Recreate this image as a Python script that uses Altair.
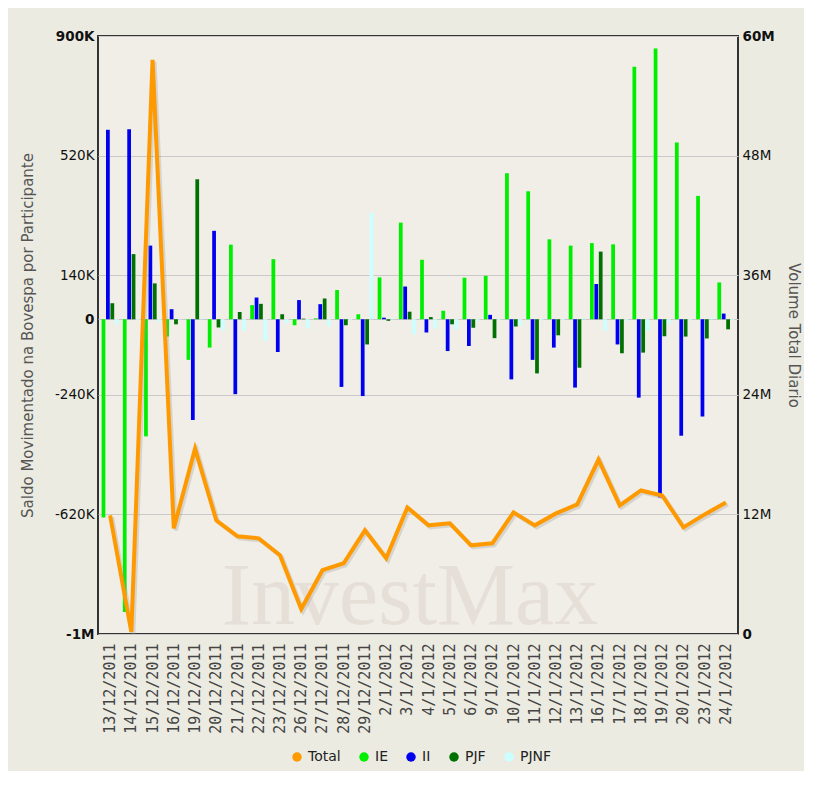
import altair as alt
import pandas as pd

# ---------------- data ----------------
dates = ["13/12/2011", "14/12/2011", "15/12/2011", "16/12/2011", "19/12/2011",
         "20/12/2011", "21/12/2011", "22/12/2011", "23/12/2011", "26/12/2011",
         "27/12/2011", "28/12/2011", "29/12/2011", "2/1/2012", "3/1/2012",
         "4/1/2012", "5/1/2012", "6/1/2012", "9/1/2012", "10/1/2012",
         "11/1/2012", "12/1/2012", "13/1/2012", "16/1/2012", "17/1/2012",
         "18/1/2012", "19/1/2012", "20/1/2012", "23/1/2012", "24/1/2012"]

series = ["IE", "II", "PJF", "PJNF"]

# saldo in thousands (K)
ie = [-630, -930, -372, -55, -129, -90, 237, 45, 191, -19, 3, 93, 16, 133, 307,
      189, 27, 132, 138, 464, 407, 254, 234, 242, 238, 802, 860, 562, 392, 117]
ii = [602, 604, 234, 32, -320, 281, -238, 69, -104, 61, 48, -215, -244, 5, 104,
      -42, -101, -85, 14, -191, -129, -90, -217, 112, -80, -249, -566, -370, -309, 18]
pjf = [51, 207, 114, -16, 445, -26, 23, 49, 16, 2, 66, -19, -80, -5, 24,
       7, -16, -27, -60, -23, -172, -51, -154, 215, -108, -106, -54, -55, -61, -32]
pjnf = [-15, -3, -8, 2, 3, -35, -37, -69, -13, -29, -23, -3, 338, 3, -48,
        -30, -32, -5, -3, -20, -3, -3, 3, -37, -5, -37, -16, -3, 5, -3]

# total daily volume in millions (M)
total = [11.9, 0.2, 57.6, 10.6, 18.6, 11.4, 9.8, 9.6, 7.9, 2.5, 6.4, 7.1, 10.4, 7.6, 12.7,
         10.9, 11.1, 8.9, 9.1, 12.2, 10.9, 12.1, 13.0, 17.5, 12.9, 14.4, 13.9, 10.7, 12.0, 13.2]

legend_names = ["Total", "IE", "II", "PJF", "PJNF"]
legend_colors = ["#ff9900", "#00ee00", "#0000ee", "#007000", "#ccffff"]

left_ticks = [900, 520, 140, 0, -240, -620, -1000]
right_ticks = [0, 12, 24, 36, 48, 60]

# ---------------- tables ----------------
rows = []
for name, vals in zip(series, [ie, ii, pjf, pjnf]):
    for d, v in zip(dates, vals):
        rows.append({"data": d, "serie": name, "saldo": v})
bars_df = pd.DataFrame(rows)
line_df = pd.DataFrame({"data": dates, "total": total, "serie": ["Total"] * len(dates)})

# ---------------- encodings ----------------
x_axis = alt.Axis(labelAngle=-90, labelFont="DejaVu Sans Mono", labelFontSize=15,
                  labelColor="#444444", labelPadding=9, ticks=False, domain=False,
                  grid=False, labelOverlap=False)
x_enc = alt.X("data:N", sort=dates, title=None,
              scale=alt.Scale(paddingInner=0.2, paddingOuter=0.17), axis=x_axis)

color_scale = alt.Scale(domain=legend_names, range=legend_colors)
legend = alt.Legend(orient="none", legendX=192, legendY=714, direction="horizontal",
                    title=None, symbolType="circle", symbolSize=90, symbolStrokeWidth=0,
                    labelFont="DejaVu Sans", labelFontSize=14, labelColor="#222222",
                    columnPadding=16, labelOffset=4)

left_axis = alt.Axis(
    values=left_ticks,
    labelExpr="datum.value == 0 ? '0' : (datum.value == -1000 ? '-1M' : datum.value + 'K')",
    labelFontWeight={"condition": {"test": "datum.value == 0 || datum.value == 900 || datum.value == -1000",
                                   "value": "bold"}, "value": "normal"},
    labelFontSize=13.5, labelColor="#111111", labelPadding=4, ticks=False, domain=False,
    grid=True, gridColor="#c9c9c9", gridWidth=1,
    title="Saldo Movimentado na Bovespa por Participante",
    titleFontSize=15, titleColor="#555555", titleFontWeight="normal", titlePadding=19)

right_axis = alt.Axis(
    orient="right", values=right_ticks,
    labelExpr="datum.value == 0 ? '0' : datum.value + 'M'",
    labelFontWeight={"condition": {"test": "datum.value == 0 || datum.value == 60",
                                   "value": "bold"}, "value": "normal"},
    labelFontSize=13.5, labelColor="#111111", labelPadding=4, ticks=False, domain=False,
    grid=False, title="Volume Total Diario",
    titleFontSize=15, titleColor="#555555", titleFontWeight="normal", titlePadding=11)

# ---------------- layers ----------------
watermark = alt.Chart(alt.Data(values=[{}])).mark_text(
    text="InvestMax", font="Liberation Serif", fontSize=88, color="#dcd2cb",
    opacity=0.5, align="center", baseline="alphabetic"
).encode(x=alt.value(312), y=alt.value(588))

bars = alt.Chart(bars_df).mark_bar().encode(
    x=x_enc,
    xOffset=alt.XOffset("serie:N", scale=alt.Scale(domain=series, paddingInner=0.15)),
    y=alt.Y("saldo:Q", scale=alt.Scale(domain=[-1000, 900], nice=False), axis=left_axis),
    color=alt.Color("serie:N", scale=color_scale, legend=legend),
)

right_y = alt.Y("total:Q", scale=alt.Scale(domain=[0, 60], nice=False), axis=right_axis)

shadow = alt.Chart(line_df).mark_line(strokeWidth=4, xOffset=2, yOffset=2, opacity=0.3).encode(
    x=x_enc, y=right_y, color=alt.value("#999999"))

line = alt.Chart(line_df).mark_line(strokeWidth=4).encode(
    x=x_enc, y=right_y,
    color=alt.Color("serie:N", scale=color_scale, legend=legend))

lines = alt.layer(shadow, line)

chart = alt.layer(watermark, bars, lines).resolve_scale(y="independent").properties(
    width=640, height=598,
    padding={"left": 90, "top": 28, "right": 66, "bottom": 137},
    autosize=alt.AutoSizeParams(type="none"),
    background="#ecebe1",
).configure_view(
    fill="#f0eee6", stroke="#333333", strokeWidth=2
).configure_axis(
    labelFont="DejaVu Sans", titleFont="DejaVu Sans"
)

chart.save("out.html", embed_options={"renderer": "svg", "actions": False})
